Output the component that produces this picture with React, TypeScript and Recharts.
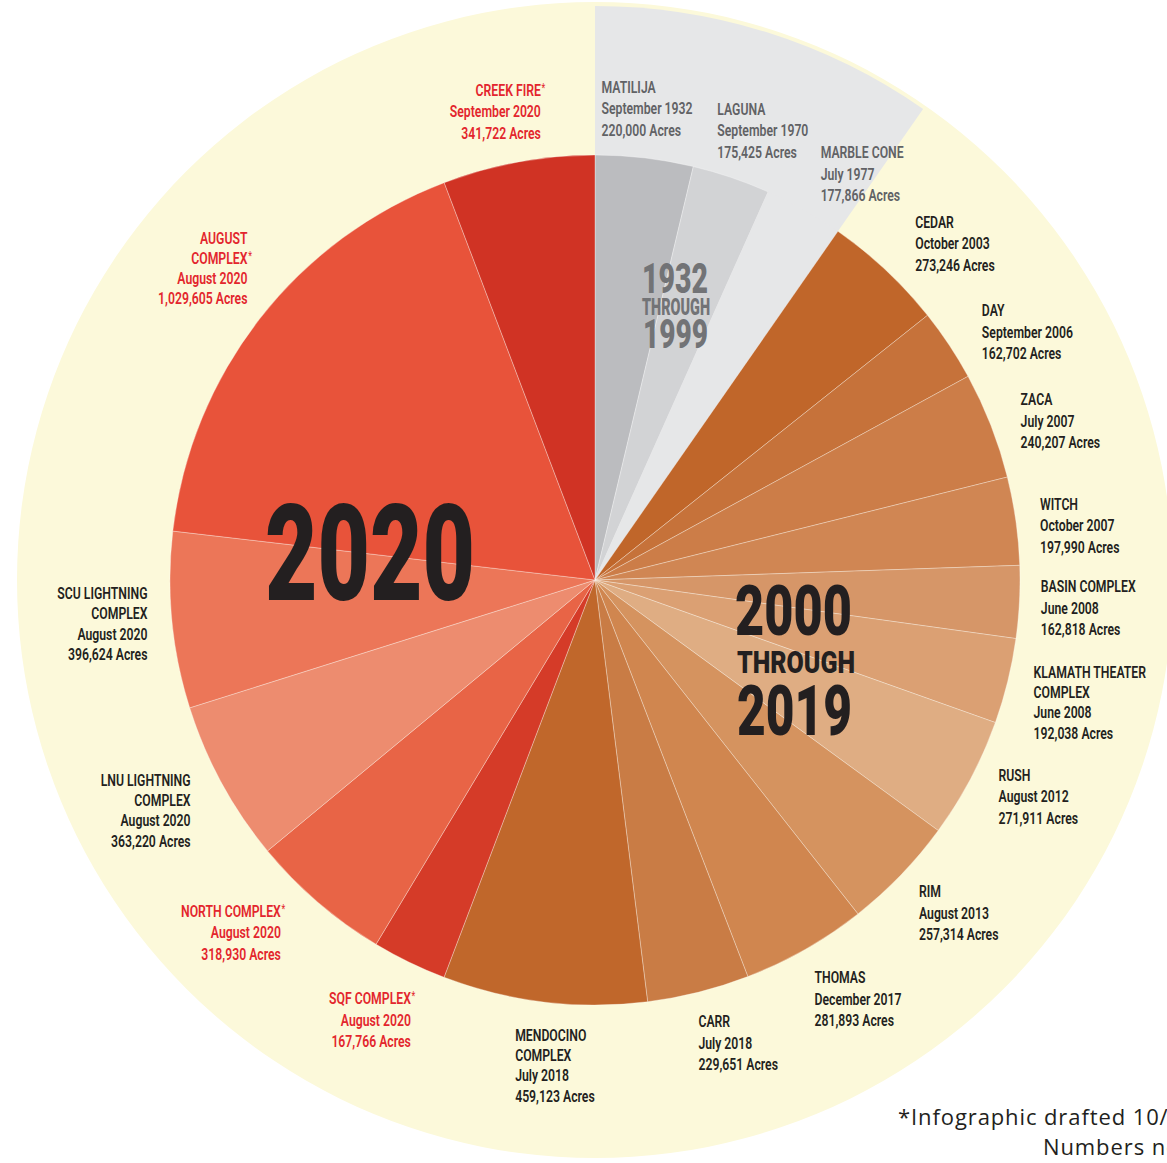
import React from 'react';
import { PieChart, Pie, Cell } from 'recharts';

// ---------- data ----------
const FIRE_NAMES = [
  'MATILIJA', 'LAGUNA', 'MARBLE CONE', 'CEDAR', 'DAY', 'ZACA', 'WITCH', 'BASIN COMPLEX',
  'KLAMATH THEATER\nCOMPLEX', 'RUSH', 'RIM', 'THOMAS', 'CARR', 'MENDOCINO\nCOMPLEX',
  'SQF COMPLEX*', 'NORTH COMPLEX*', 'LNU LIGHTNING\nCOMPLEX', 'SCU LIGHTNING\nCOMPLEX',
  'AUGUST\nCOMPLEX*', 'CREEK FIRE*',
];
const FIRE_DATES = [
  'September 1932', 'September 1970', 'July 1977', 'October 2003', 'September 2006', 'July 2007',
  'October 2007', 'June 2008', 'June 2008', 'August 2012', 'August 2013', 'December 2017',
  'July 2018', 'July 2018', 'August 2020', 'August 2020', 'August 2020', 'August 2020',
  'August 2020', 'September 2020',
];
const FIRE_ACRES = [
  220000, 175425, 177866, 273246, 162702, 240207, 197990, 162818, 192038, 271911, 257314,
  281893, 229651, 459123, 167766, 318930, 363220, 396624, 1029605, 341722,
];
const ERA_NAMES = ['1932 THROUGH 1999', '2000 THROUGH 2019', '2020'];
const ERA_SIZES = [3, 11, 6]; // number of fires in each era, in order
const FOOTNOTE_LINES = ['*Infographic drafted 10/2020.', 'Numbers not final.'];

// ---------- styles ----------
const ERA_GRAY = '#e6e7e8';
const SLICE_COLORS = [
  '#bbbcbf', '#d2d3d5', ERA_GRAY, '#c0662a', '#c6723a', '#cc7d48', '#d08653', '#d69668',
  '#dba073', '#dfad83', '#d5935f', '#d0864f', '#c97c45', '#c0672b',
  '#d53b28', '#e86446', '#ed8c6f', '#ec7658', '#e8533a', '#d03324',
];
const GRAY_TEXT = '#616265';
const DARK_TEXT = '#231f20';
const RED_TEXT = '#e3262d';
const LABEL_COLORS = [
  GRAY_TEXT, GRAY_TEXT, GRAY_TEXT,
  DARK_TEXT, DARK_TEXT, DARK_TEXT, DARK_TEXT, DARK_TEXT, DARK_TEXT, DARK_TEXT, DARK_TEXT,
  DARK_TEXT, DARK_TEXT, DARK_TEXT,
  RED_TEXT, RED_TEXT, DARK_TEXT, DARK_TEXT, RED_TEXT, RED_TEXT,
];
// label placement tweaks: [angle offset in degrees, radial offset in px]
const LABEL_NUDGE = [
  [-5.9, 0], [-3.5, -5], [-0.4, -4], [0.4, 0], [0.9, 0], [0.8, 0], [1.0, 0], [0.6, 0],
  [1.8, 3], [0.3, 0], [1.8, 0], [2.0, 4], [1.5, 3], [2.5, 20],
  [-3.2, 7], [1.0, 7], [-1.1, 7], [-0.1, 2], [4.0, 4], [3.8, 0],
];
const YELLOW = '#fcf9da';
const LABEL_FONT = 'Roboto, "Liberation Sans", sans-serif';
const BIG_FONT = 'Roboto, "DejaVu Sans", sans-serif';

const fireData = FIRE_NAMES.map((name, i) => ({ name, value: FIRE_ACRES[i] }));
let cursor = 0;
const eraData = ERA_NAMES.map((name, e) => {
  const slice = FIRE_ACRES.slice(cursor, cursor + ERA_SIZES[e]);
  cursor += ERA_SIZES[e];
  return { name, value: slice.reduce((a, b) => a + b, 0) };
});

const W = 1167;
const H = 1163;
const CX = 595;
const CY = 580;

function renderLabel(props: any) {
  const { cx, cy, midAngle } = props;
  let i = typeof props.index === 'number' ? props.index : FIRE_NAMES.indexOf(props.name);
  if (i < 0) i = 0;
  const theta = (((90 - midAngle) % 360) + 360) % 360;
  const [dA, dR] = LABEL_NUDGE[i];
  const phi = theta + dA;
  const rad = (phi * Math.PI) / 180;
  const r = 445 + 27 * Math.abs(Math.cos(rad)) + dR;
  const x = cx + r * Math.sin(rad);
  const yc = cy - r * Math.cos(rad);
  const lines = [
    ...FIRE_NAMES[i].split('\n'),
    FIRE_DATES[i],
    `${FIRE_ACRES[i].toLocaleString('en-US')} Acres`,
  ];
  const spacing = lines.length > 3 ? 20.3 : 21.5;
  const capH = 12;
  const blockH = capH + (lines.length - 1) * spacing;
  const b1 = yc - blockH / 2 + capH;
  const anchor = phi <= 195 ? 'start' : 'end';
  const color = LABEL_COLORS[i];
  return (
    <g key={`lbl-${i}`} transform={`translate(${x},${b1}) scale(0.72,1)`}>
      {lines.map((line, k) => {
        const star = line.endsWith('*');
        const txt = star ? line.slice(0, -1) : line;
        return (
          <g key={k}>
            <text
              x={0}
              y={k * spacing}
              textAnchor={anchor}
              fill={color}
              fontFamily={LABEL_FONT}
              fontWeight={600}
              fontSize={17}
            >
              {txt}
            </text>
            {star && (
              <text
                x={anchor === 'end' ? 1 : 0}
                y={k * spacing - 4}
                textAnchor="start"
                fill={color}
                fontFamily={LABEL_FONT}
                fontSize={12}
              >
                *
              </text>
            )}
          </g>
        );
      })}
    </g>
  );
}

function Titles() {
  const big = (t: string, x: number, y: number, w: number, fs: number, fill: string, k: string) => (
    <text
      key={k}
      x={x}
      y={y}
      textLength={w}
      lengthAdjust="spacingAndGlyphs"
      fontFamily={BIG_FONT}
      fontWeight={900}
      fontSize={fs}
      fill={fill}
    >
      {t}
    </text>
  );
  return (
    <svg
      width={W}
      height={H}
      style={{ position: 'absolute', left: 0, top: 0, pointerEvents: 'none' }}
    >
      {big('1932', 642, 293, 66, 42, '#727376', 'a1')}
      {big('THROUGH', 642, 315, 68, 24, '#727376', 'a2')}
      {big('1999', 643, 348, 65, 40, '#727376', 'a3')}
      {big('2000', 735, 635, 117, 70, DARK_TEXT, 'b1')}
      {big('THROUGH', 737, 673, 118, 32, DARK_TEXT, 'b2')}
      {big('2019', 737, 735, 115, 70, DARK_TEXT, 'b3')}
      {big('2020', 265, 600, 210, 134, DARK_TEXT, 'c1')}
      <text
        x={898}
        y={1125}
        fontFamily='"Open Sans", sans-serif'
        fontSize={22}
        letterSpacing={0.9}
        fill={DARK_TEXT}
      >
        {FOOTNOTE_LINES[0]}
      </text>
      <text
        x={1043}
        y={1155}
        fontFamily='"Open Sans", sans-serif'
        fontSize={22}
        letterSpacing={0.9}
        fill={DARK_TEXT}
      >
        {FOOTNOTE_LINES[1]}
      </text>
    </svg>
  );
}

export default function App() {
  return (
    <div
      style={{
        position: 'absolute',
        left: 0,
        top: 0,
        width: W,
        height: H,
        overflow: 'hidden',
        background: '#ffffff',
      }}
    >
      <PieChart width={W} height={H} margin={{ top: 0, right: 0, bottom: 0, left: 0 }}>
        <Pie
          data={[{ name: 'ring', value: 1 }]}
          dataKey="value"
          cx={CX}
          cy={CY}
          outerRadius={578}
          innerRadius={0}
          fill={YELLOW}
          stroke="none"
          isAnimationActive={false}
        />
        <Pie
          data={eraData}
          dataKey="value"
          cx={CX}
          cy={CY}
          outerRadius={574}
          innerRadius={0}
          startAngle={90}
          endAngle={-270}
          stroke="none"
          isAnimationActive={false}
        >
          {eraData.map((d, i) => (
            <Cell key={d.name} fill={i === 0 ? ERA_GRAY : 'none'} stroke="none" />
          ))}
        </Pie>
        <Pie
          data={fireData}
          dataKey="value"
          cx={CX}
          cy={CY}
          outerRadius={425}
          innerRadius={0}
          startAngle={90}
          endAngle={-270}
          label={renderLabel}
          labelLine={false}
          isAnimationActive={false}
        >
          {fireData.map((d, i) => (
            <Cell
              key={d.name}
              fill={SLICE_COLORS[i]}
              stroke={SLICE_COLORS[i] === ERA_GRAY ? ERA_GRAY : '#ffffff'}
              strokeOpacity={SLICE_COLORS[i] === ERA_GRAY ? 1 : 0.45}
              strokeWidth={0.7}
            />
          ))}
        </Pie>
      </PieChart>
      <Titles />
    </div>
  );
}
